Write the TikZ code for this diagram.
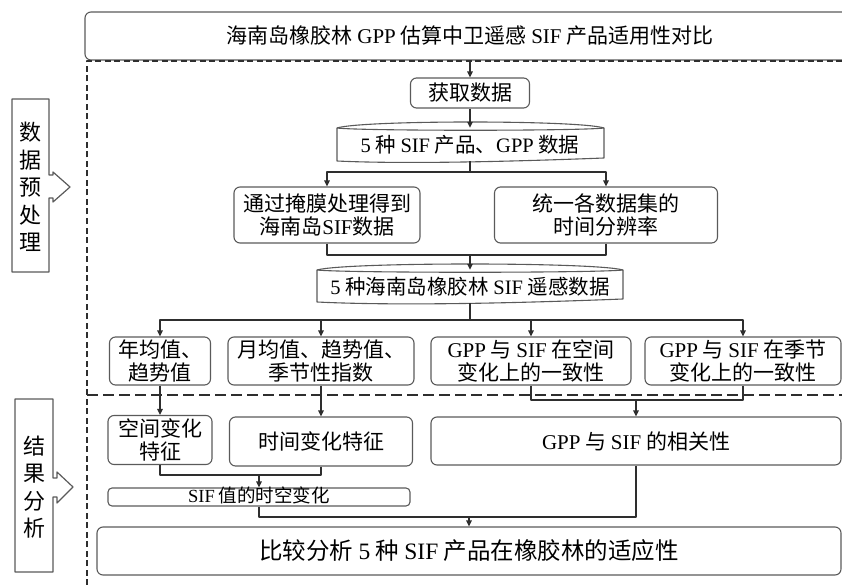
\documentclass[tikz,border=0pt]{standalone}
\usepackage{fontspec}
\setmainfont{Noto Sans CJK SC}
\newfontfamily\latinfont{Liberation Serif}
\newcommand\en[1]{{\latinfont #1}}
\usetikzlibrary{arrows.meta}
\definecolor{boxc}{HTML}{5A5A5A}
\definecolor{wirec}{HTML}{2E2E2E}
\begin{document}
\begin{tikzpicture}[x=1pt, y=-1pt, line join=round,
    box/.style={draw=boxc, line width=1.1pt, rounded corners=6pt, align=center, inner sep=0pt, font=\fontsize{21}{23}\selectfont},
    drum/.style={inner sep=0pt, align=center, font=\fontsize{20.5}{22}\selectfont},
    drumline/.style={draw=boxc, line width=1.1pt},
    sidebox/.style={draw=boxc, line width=1.2pt, fill=white},
    sidetext/.style={align=center, inner sep=0pt, font=\fontsize{22}{27.5}\selectfont},
    wire/.style={draw=wirec, line width=1.3pt},
    arr/.style={wire, -{Triangle[length=6pt, width=5.5pt]}},
    frame/.style={draw=wirec, line width=1.3pt, dash pattern=on 6pt off 3.5pt},
    sep/.style={draw=wirec, line width=1.3pt, dash pattern=on 11pt off 5pt}]
  \useasboundingbox (0,0) rectangle (842,585);
  \clip (0,0) rectangle (842,585);

  \node[box, font=\fontsize{21}{23}\selectfont, minimum width=770pt, minimum height=48pt] (title) at (470,36) {海南岛橡胶林 \en{GPP} 估算中卫遥感 \en{SIF} 产品适用性对比};
  \draw[frame] (87,585) -- (87,61) -- (842,61);
  \draw[sep] (87,395) -- (842,395);

  \draw[sidebox] (12,99) -- (49,99) -- (49,175) -- (53,175) -- (53,172) -- (70,187) -- (53,202) -- (53,198) -- (49,198) -- (49,272) -- (12,272) -- cycle;
  \node[sidetext] (prep) at (30.5,187) {数\\据\\预\\处\\理};
  \draw[sidebox] (15,399) -- (53,399) -- (53,478) -- (57,478) -- (57,472) -- (73,487) -- (57,503) -- (57,497) -- (53,497) -- (53,572) -- (15,572) -- cycle;
  \node[sidetext] (res) at (34,487) {结\\果\\分\\析};

  \node[box, minimum width=119pt, minimum height=30pt] (fetch) at (470,93) {获取数据};

  \node[drum, minimum width=267pt, minimum height=33pt] (cyl1) at (470,144.5) {\en{5} 种 \en{SIF} 产品、\en{GPP} 数据};
  \draw[drumline] (337,128) .. controls (362,120) and (579,120) .. (604,128) -- (604,158) .. controls (500,162) and (400,164) .. (337,161) -- cycle;
  \draw[drumline] (337,128) .. controls (362,131) and (579,131) .. (604,128);

  \node[box, minimum width=186pt, minimum height=56pt] (mask) at (327,215) {通过掩膜处理得到\\海南岛\en{SIF}数据};
  \node[box, minimum width=223pt, minimum height=56pt] (unify) at (606,215) {统一各数据集的\\时间分辨率};

  \node[drum, minimum width=306pt, minimum height=33pt] (cyl2) at (470,286.5) {\en{5} 种海南岛橡胶林 \en{SIF} 遥感数据};
  \draw[drumline] (317,270) .. controls (345,262) and (595,262) .. (623,270) -- (623,299) .. controls (520,303) and (400,306) .. (317,302) -- cycle;
  \draw[drumline] (317,270) .. controls (345,273) and (595,273) .. (623,270);

  \node[box, minimum width=101pt, minimum height=48pt] (yearly) at (160,361) {年均值、\\趋势值};
  \node[box, minimum width=186pt, minimum height=48pt] (monthly) at (321,361) {月均值、趋势值、\\季节性指数};
  \node[box, minimum width=200pt, minimum height=48pt] (spcons) at (531,361) {\en{GPP} 与 \en{SIF} 在空间\\变化上的一致性};
  \node[box, minimum width=196pt, minimum height=48pt] (secons) at (743,361) {\en{GPP} 与 \en{SIF} 在季节\\变化上的一致性};

  \node[box, minimum width=104pt, minimum height=49pt] (spatchar) at (160,440) {空间变化\\特征};
  \node[box, minimum width=183pt, minimum height=49pt] (tempchar) at (321,441.5) {时间变化特征};
  \node[box, minimum width=410pt, minimum height=48pt] (corr) at (636,441) {\en{GPP} 与 \en{SIF} 的相关性};

  \node[box, rounded corners=4pt, font=\fontsize{18.5}{20}\selectfont, text height=13pt, text depth=3pt, minimum width=302pt, minimum height=18pt] (sifchg) at (259,497) {\en{SIF} 值的时空变化};

  \node[box, font=\fontsize{23.5}{25}\selectfont, minimum width=744pt, minimum height=48pt] (final) at (469,551) {比较分析 \en{5} 种 \en{SIF} 产品在橡胶林的适应性};

  \coordinate (b1) at (470,172);
  \coordinate (b2) at (470,255);
  \coordinate (b3) at (470,320);
  \coordinate (b4) at (636,400);
  \coordinate (b5) at (259,475);
  \coordinate (b6) at (469,517);

  \draw[arr] (title.south) -- (fetch.north);
  \draw[arr] (fetch.south) -- (cyl1.north);
  \draw[wire] (cyl1.south) -- (b1);
  \draw[arr] (b1) -| (mask.north);
  \draw[arr] (b1) -| (unify.north);
  \draw[wire] (mask.south) |- (b2);
  \draw[wire] (unify.south) |- (b2);
  \draw[arr] (b2) -- (cyl2.north);
  \draw[wire] (cyl2.south) -- (b3);
  \draw[arr] (b3) -| (yearly.north);
  \draw[arr] (b3) -| (monthly.north);
  \draw[arr] (b3) -| (spcons.north);
  \draw[arr] (b3) -| (secons.north);
  \draw[arr] (yearly.south) -- (spatchar.north);
  \draw[arr] (monthly.south) -- (tempchar.north);
  \draw[wire] (spcons.south) |- (b4);
  \draw[wire] (secons.south) |- (b4);
  \draw[arr] (b4) -- (corr.north);
  \draw[wire] (spatchar.south) |- (b5);
  \draw[wire] (tempchar.south) |- (b5);
  \draw[arr] (b5) -- (sifchg.north);
  \draw[wire] (sifchg.south) |- (b6);
  \draw[wire] (corr.south) |- (b6);
  \draw[arr] (b6) -- (final.north);
\end{tikzpicture}
\end{document}
